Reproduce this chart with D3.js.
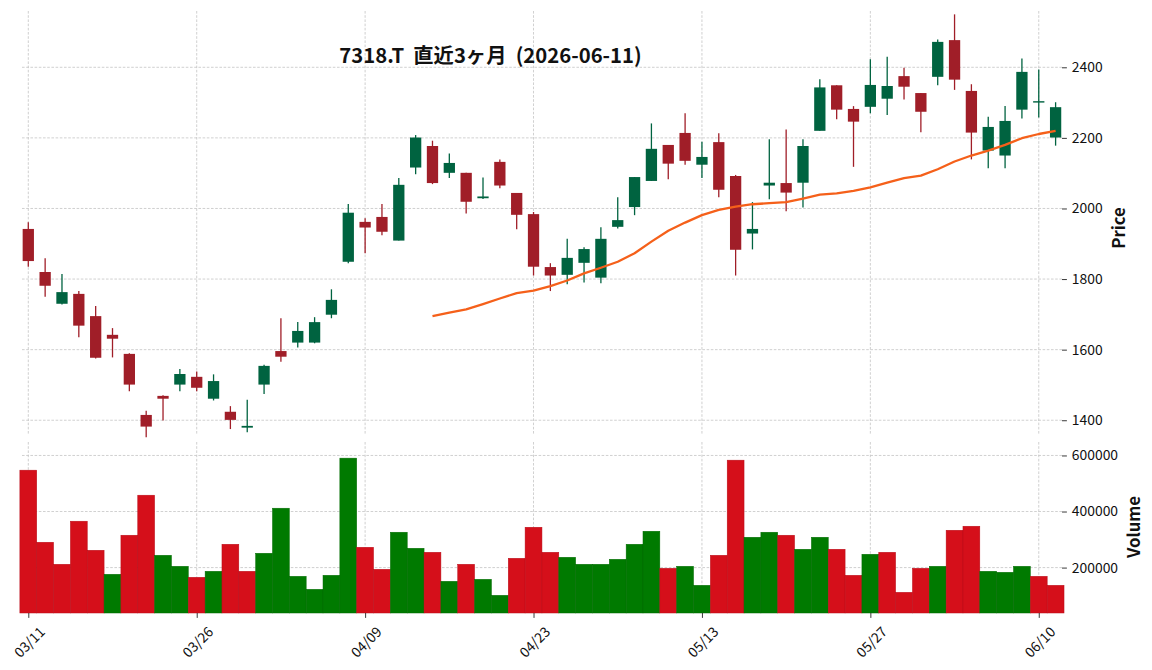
<!DOCTYPE html>
<html>
<head>
<meta charset="utf-8">
<script src="https://cdn.jsdelivr.net/npm/d3@7"></script>
<style>
  html, body { margin: 0; padding: 0; background: #fff; }
  svg { display: block; font-family: "Noto Sans CJK JP", "Noto Sans", sans-serif; }
</style>
</head>
<body>
<svg id="chart" width="1152" height="670"></svg>
<script>
const titleText = "7318.T  直近3ヶ月  (2026-06-11)";
const dates = [
  "03/11","03/12","03/13","03/16","03/17","03/18","03/19","03/23","03/24","03/25",
  "03/26","03/27","03/30","03/31","04/01","04/02","04/03","04/06","04/07","04/08",
  "04/09","04/10","04/13","04/14","04/15","04/16","04/17","04/20","04/21","04/22",
  "04/23","04/24","04/27","04/28","04/30","05/01","05/07","05/08","05/11","05/12",
  "05/13","05/14","05/15","05/18","05/19","05/20","05/21","05/22","05/25","05/26",
  "05/27","05/28","05/29","06/01","06/02","06/03","06/04","06/05","06/08","06/09",
  "06/10","06/11"
];
const opens = [
  1942,1820,1730,1758,1695,1642,1588,1415,1469,1501,
  1523,1461,1424,1379,1501,1596,1620,1620,1699,1849,
  1962,1976,1909,2116,2177,2101,2101,2029,2132,2044,
  1984,1834,1812,1846,1804,1948,2004,2078,2180,2214,
  2124,2188,2092,1929,2065,2072,2073,2220,2349,2282,
  2288,2311,2375,2327,2373,2477,2333,2164,2150,2280,
  2300,2201
];
const highs = [
  1961,1859,1814,1766,1724,1661,1590,1427,1471,1545,
  1538,1530,1440,1458,1557,1689,1678,1692,1771,2013,
  1972,2013,2086,2208,2192,2156,2101,2088,2139,2044,
  1990,1845,1914,1890,1947,2032,2089,2241,2180,2270,
  2189,2213,2095,2018,2196,2224,2196,2366,2349,2290,
  2423,2430,2399,2327,2479,2550,2352,2260,2290,2425,
  2394,2301
];
const lows = [
  1835,1750,1728,1635,1575,1578,1482,1352,1399,1482,
  1482,1456,1375,1366,1474,1566,1606,1618,1689,1845,
  1873,1924,1909,2097,2069,2086,1986,2027,2057,1941,
  1810,1766,1785,1790,1788,1943,1981,2078,2083,2124,
  2086,2032,1810,1884,2026,1992,2003,2220,2253,2118,
  2270,2265,2309,2216,2349,2336,2139,2114,2114,2255,
  2258,2178
];
const closes = [
  1851,1781,1763,1668,1577,1631,1501,1382,1461,1531,
  1492,1511,1401,1384,1554,1580,1653,1678,1741,1988,
  1946,1934,2067,2201,2072,2129,2019,2034,2065,1982,
  1835,1810,1860,1885,1914,1967,2089,2169,2127,2135,
  2146,2053,1883,1942,2073,2045,2177,2343,2280,2246,
  2350,2347,2345,2274,2472,2365,2215,2231,2248,2387,
  2304,2287
];
const volumes = [
  547500,290400,211800,365400,261800,176100,315400,458200,243900,204600,
  165400,186800,283200,186800,251100,411800,168900,122500,172500,590400,
  272500,193900,326100,268900,254600,151100,211800,158200,101100,233200,
  343900,254600,236800,211800,211800,229600,283200,329600,197500,204600,
  136800,243900,583200,308200,326100,315400,265400,308200,265400,172500,
  247500,254600,111800,197500,204600,333200,347500,186800,183200,204600,
  168900,136800
];
const ma25 = [
  null,null,null,null,null,null,null,null,null,null,
  null,null,null,null,null,null,null,null,null,null,
  null,null,null,null,1695,1705,1714,1729,1745,1760,
  1767,1780,1796,1816,1832,1849,1873,1906,1937,1960,
  1981,1996,2005,2012,2015,2018,2028,2039,2043,2050,
  2060,2073,2086,2093,2111,2133,2150,2164,2180,2199,
  2211,2220
];
const priceTicks = [1400,1600,1800,2000,2200,2400];
const volumeTicks = [200000,400000,600000];
const xTickEvery = 10;

const svg = d3.select("#chart");
const L = 22, R = 1062;
const pTop = 11, pBot = 434, vTop = 442, vBot = 613;
const n = dates.length;

const x = d3.scaleLinear().domain([-0.374, 61.38]).range([L, R]);
const step = x(1) - x(0);
const yP = d3.scaleLinear().domain([1361, 2559.5]).range([pBot, pTop]);
const yV = d3.scaleLinear().domain([38000, 648000]).range([vBot, vTop]);

const gridColor = "#c4c4c4";
const dash = "2.6,1.6";
const xTickIdx = d3.range(0, n, xTickEvery);

// grids
const grid = svg.append("g");
[[pTop, pBot], [vTop, vBot]].forEach(([t, b]) => {
  grid.selectAll(null).data(xTickIdx).enter().append("line")
    .attr("x1", d => x(d)).attr("x2", d => x(d)).attr("y1", t).attr("y2", b)
    .attr("stroke", gridColor).attr("stroke-width", 0.8).attr("stroke-dasharray", dash);
});
grid.selectAll(null).data(priceTicks).enter().append("line")
  .attr("x1", L).attr("x2", R).attr("y1", d => yP(d)).attr("y2", d => yP(d))
  .attr("stroke", gridColor).attr("stroke-width", 0.8).attr("stroke-dasharray", dash);
grid.selectAll(null).data(volumeTicks).enter().append("line")
  .attr("x1", L).attr("x2", R).attr("y1", d => yV(d)).attr("y2", d => yV(d))
  .attr("stroke", gridColor).attr("stroke-width", 0.8).attr("stroke-dasharray", dash);

// candles
const upC = "#006340", dnC = "#a01e28";
const idx = d3.range(n);
const cg = svg.append("g");
cg.selectAll("line.wick").data(idx).enter().append("line")
  .attr("class", "wick")
  .attr("x1", i => x(i)).attr("x2", i => x(i))
  .attr("y1", i => yP(highs[i])).attr("y2", i => yP(lows[i]))
  .attr("stroke", i => closes[i] >= opens[i] ? upC : dnC)
  .attr("stroke-width", 1.3);
const bw = step * 0.67;
cg.selectAll("rect.body").data(idx).enter().append("rect")
  .attr("class", "body")
  .attr("x", i => x(i) - bw / 2)
  .attr("width", bw)
  .attr("y", i => yP(Math.max(opens[i], closes[i])))
  .attr("height", i => Math.max(1.2, Math.abs(yP(opens[i]) - yP(closes[i]))))
  .attr("fill", i => closes[i] >= opens[i] ? upC : dnC);

// moving average
const line = d3.line()
  .defined(i => ma25[i] !== null)
  .x(i => x(i)).y(i => yP(ma25[i]))
  .curve(d3.curveLinear);
svg.append("path").datum(idx).attr("d", line)
  .attr("fill", "none").attr("stroke", "#f5601a").attr("stroke-width", 2.3)
  .attr("stroke-linejoin", "round");

// volume bars
const vUp = "#007a00", vDn = "#d50f1a";
const isUpVol = i => i === 0 ? closes[i] >= opens[i] : closes[i] >= closes[i - 1];
svg.append("g").selectAll("rect").data(idx).enter().append("rect")
  .attr("x", i => x(i) - step / 2)
  .attr("width", step)
  .attr("y", i => yV(volumes[i]))
  .attr("height", i => vBot - yV(volumes[i]))
  .attr("fill", i => isUpVol(i) ? vUp : vDn)
  .attr("stroke", i => isUpVol(i) ? "#006a00" : "#b80d18")
  .attr("stroke-width", 0.5);

// axes
const tickLen = 4.9;
function styleAxis(g) {
  g.select(".domain").remove();
  g.selectAll(".tick line").attr("stroke", "#222").attr("stroke-width", 0.9);
  g.selectAll(".tick text").attr("fill", "#111").attr("font-size", "13.9px")
    .attr("font-family", "'Noto Sans CJK JP', 'Noto Sans', sans-serif");
}
svg.append("g").attr("transform", `translate(${R},0)`)
  .call(d3.axisRight(yP).tickValues(priceTicks).tickSize(tickLen).tickPadding(4.9).tickFormat(d3.format("d")))
  .call(styleAxis);
svg.append("g").attr("transform", `translate(${R},0)`)
  .call(d3.axisRight(yV).tickValues(volumeTicks).tickSize(tickLen).tickPadding(4.9).tickFormat(d3.format("d")))
  .call(styleAxis);
const xa = svg.append("g").attr("transform", `translate(0,${vBot})`)
  .call(d3.axisBottom(x).tickValues(xTickIdx).tickSize(tickLen).tickFormat(i => dates[i]))
  .call(styleAxis);
xa.selectAll(".tick text")
  .attr("text-anchor", "middle")
  .attr("dy", null)
  .attr("y", 0)
  .attr("dominant-baseline", "central")
  .attr("transform", "translate(0,28.5) rotate(-45)");

// axis labels
svg.append("text").attr("transform", "translate(1118,228) rotate(-90)")
  .attr("text-anchor", "middle").attr("dominant-baseline", "central")
  .attr("font-size", "16.7px").attr("font-weight", "bold").attr("fill", "#111")
  .text("Price");
svg.append("text").attr("transform", "translate(1133,527) rotate(-90)")
  .attr("text-anchor", "middle").attr("dominant-baseline", "central")
  .attr("font-size", "16.7px").attr("font-weight", "bold").attr("fill", "#111")
  .text("Volume");

// title
svg.append("text").attr("x", 490.5).attr("y", 63)
  .attr("text-anchor", "middle").attr("font-size", "20.3px").attr("font-weight", "bold")
  .attr("fill", "#111").attr("xml:space", "preserve").style("white-space", "pre")
  .text(titleText);
</script>
</body>
</html>
